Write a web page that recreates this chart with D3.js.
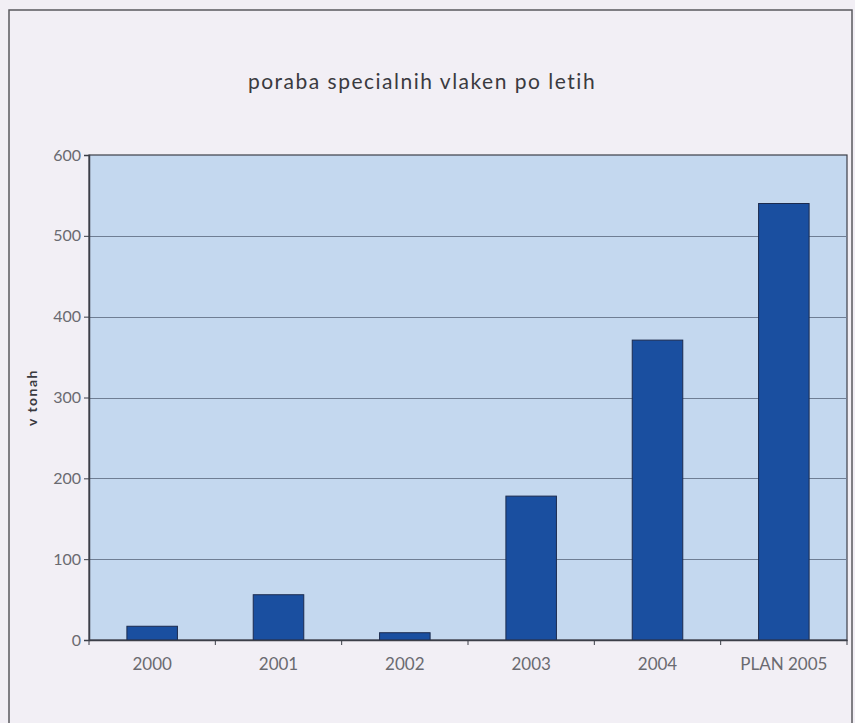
<!DOCTYPE html>
<html><head><meta charset="utf-8">
<script src="https://cdn.jsdelivr.net/npm/d3@7/dist/d3.min.js"></script>
<style>body{margin:0;background:#f2eff5;}svg{display:block;}</style>
</head><body>
<svg id="c" width="855" height="723"></svg>
<script>
const categories = ["2000","2001","2002","2003","2004","PLAN 2005"];
const values = [17, 56, 9, 178, 371, 540];
const yTicks = [0,100,200,300,400,500,600];
const title = "poraba specialnih vlaken po letih";
const yLabel = "v tonah";

const svg = d3.select("#c");
const W = 855, H = 723;
const m = {left: 89, right: 8, top: 155, bottom: 83};
const x = d3.scaleBand().domain(categories).range([m.left, W - m.right]).paddingInner(0.6).paddingOuter(0.3);
const xb = d3.scaleBand().domain(categories).range([m.left, W - m.right]);
const y = d3.scaleLinear().domain([0, 600]).range([H - m.bottom, m.top]);
const font = "Lato, 'DejaVu Sans', sans-serif";

// outer frame
svg.append("rect").attr("x", 9).attr("y", 10).attr("width", 843).attr("height", 730)
  .attr("fill", "none").attr("stroke", "#5a5a5e").attr("stroke-width", 1.5);

// title
svg.append("text").attr("x", 422).attr("y", 89).attr("text-anchor", "middle")
  .attr("font-family", font).attr("font-size", 21).attr("letter-spacing", 1.5)
  .attr("fill", "#3a3a40").text(title);

// plot background
svg.append("rect").attr("x", m.left).attr("y", m.top)
  .attr("width", W - m.right - m.left).attr("height", H - m.bottom - m.top)
  .attr("fill", "#c4d8ef").attr("stroke", "#3c3f48").attr("stroke-width", 1.2);

// gridlines
svg.append("g").selectAll("line").data(yTicks.filter(t => t > 0 && t < 600)).join("line")
  .attr("x1", m.left).attr("x2", W - m.right)
  .attr("y1", d => Math.round(y(d)) + 0.5).attr("y2", d => Math.round(y(d)) + 0.5)
  .attr("stroke", "#6f7e94").attr("stroke-width", 1);

// bars
svg.append("g").selectAll("rect").data(values).join("rect")
  .attr("x", (d, i) => x(categories[i]))
  .attr("width", x.bandwidth())
  .attr("y", d => y(d))
  .attr("height", d => y(0) - y(d))
  .attr("fill", "#1a4fa0").attr("stroke", "#1c2b4e").attr("stroke-width", 1);

// y axis
const yAxis = d3.axisLeft(y).tickValues(yTicks).tickSize(5).tickPadding(3);
const gy = svg.append("g").attr("transform", `translate(${m.left},0)`).call(yAxis);
gy.select(".domain").attr("stroke", "#3c3f48").attr("stroke-width", 1.5);
gy.selectAll(".tick line").attr("stroke", "#3c3f48");
gy.selectAll(".tick text").attr("font-family", font)
  .attr("font-size", 16).attr("fill", "#6a6a70");

// x axis
const xAxis = d3.axisBottom(xb).tickSize(0).tickPadding(18);
const gx = svg.append("g").attr("transform", `translate(0,${H - m.bottom})`).call(xAxis);
gx.select(".domain").attr("stroke", "#3c3f48").attr("stroke-width", 1.5);
gx.selectAll(".tick text").attr("font-family", font)
  .attr("font-size", 17).attr("fill", "#6a6a70");
// category boundary ticks
svg.append("g").selectAll("line").data(categories.concat(["end"])).join("line")
  .attr("x1", (d, i) => i < categories.length ? xb(d) : W - m.right)
  .attr("x2", (d, i) => i < categories.length ? xb(d) : W - m.right)
  .attr("y1", H - m.bottom).attr("y2", H - m.bottom + 5)
  .attr("stroke", "#3c3f48").attr("stroke-width", 1);

// y label
svg.append("text").attr("transform", `translate(37,${(y(0) + y(600)) / 2}) rotate(-90)`)
  .attr("text-anchor", "middle").attr("font-family", font)
  .attr("font-size", 14).attr("font-weight", "bold").attr("letter-spacing", 1.5)
  .attr("fill", "#3a3a40").text(yLabel);
</script>
</body></html>
